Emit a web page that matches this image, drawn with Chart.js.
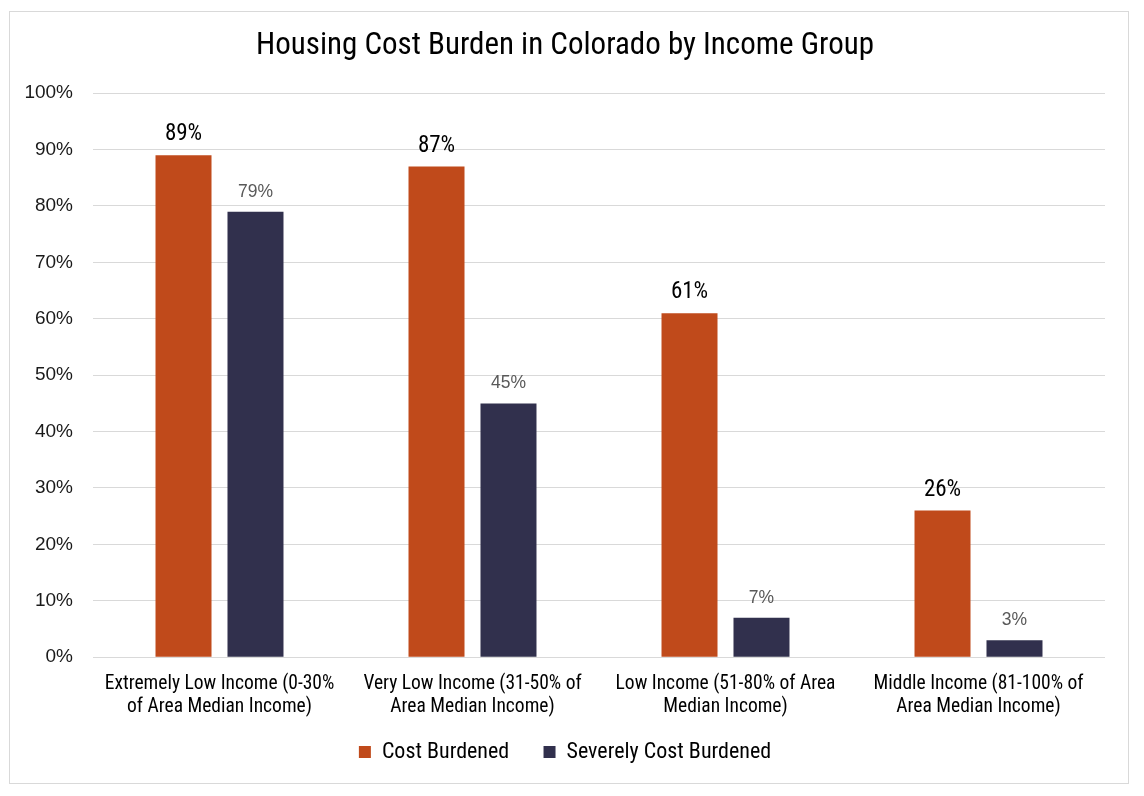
<!DOCTYPE html>
<html>
<head>
<meta charset="utf-8">
<script src="https://cdn.jsdelivr.net/npm/chart.js@4/dist/chart.umd.min.js"></script>
<style>
  html, body { margin: 0; padding: 0; background: #fff; }
  #frame {
    position: absolute; left: 9px; top: 11px;
    width: 1120px; height: 773px;
    border: 1px solid #d9d9d9; box-sizing: border-box;
  }
  #chart { display: block; }
</style>
</head>
<body>
<div id="frame"><canvas id="chart" width="1118" height="771"></canvas></div>
<script>
// ─── Data ───────────────────────────────────────────────
const CATEGORIES = [
  ['Extremely Low Income (0-30%', 'of Area Median Income)'],
  ['Very Low Income (31-50% of', 'Area Median Income)'],
  ['Low Income (51-80% of Area', 'Median Income)'],
  ['Middle Income (81-100% of', 'Area Median Income)'],
];
const COST_BURDENED = [89, 87, 61, 26];
const SEVERELY_BURDENED = [79, 45, 7, 3];
const Y_TICKS = [0, 10, 20, 30, 40, 50, 60, 70, 80, 90, 100];

const NARROW = '"Liberation Sans Narrow", "Roboto Condensed", sans-serif';
const SANS = '"Liberation Sans", Arial, sans-serif';

// value labels above each bar
const valueLabels = {
  id: 'valueLabels',
  afterDatasetsDraw(chart) {
    const ctx = chart.ctx;
    ctx.save();
    ctx.textAlign = 'center';
    ctx.textBaseline = 'alphabetic';
    chart.data.datasets.forEach((ds, i) => {
      chart.getDatasetMeta(i).data.forEach((bar, j) => {
        ctx.fillStyle = ds.labelColor;
        ctx.font = ds.labelFont;
        ctx.fillText(ds.data[j] + '%', bar.x, bar.y - 15);
      });
    });
    ctx.restore();
  }
};

new Chart(document.getElementById('chart'), {
  type: 'bar',
  data: {
    labels: CATEGORIES,
    datasets: [
      {
        label: 'Cost Burdened',
        data: COST_BURDENED,
        backgroundColor: '#c04a1b',
        labelColor: '#000',
        labelFont: '23px ' + NARROW,
        barPercentage: 0.778,
        categoryPercentage: 0.569,
      },
      {
        label: 'Severely Cost Burdened',
        data: SEVERELY_BURDENED,
        backgroundColor: '#31304d',
        labelColor: '#595959',
        labelFont: '17.5px ' + SANS,
        barPercentage: 0.778,
        categoryPercentage: 0.569,
      },
    ]
  },
  options: {
    responsive: false,
    animation: false,
    layout: { autoPadding: false, padding: { left: 15, right: 23, top: 0, bottom: 10 } },
    plugins: {
      title: {
        display: true,
        text: 'Housing Cost Burden in Colorado by Income Group',
        color: '#000',
        font: { family: NARROW, size: 31, weight: 'normal' },
        padding: { top: 16, bottom: 28 },
      },
      legend: {
        position: 'bottom',
        labels: {
          color: '#000',
          font: { family: NARROW, size: 22 },
          boxWidth: 12, boxHeight: 12,
          padding: 15,
          // widen the gap after the first entry, as in the source
          generateLabels: chart => {
            const items = Chart.defaults.plugins.legend.labels.generateLabels(chart);
            items[0].text += '\u2003';
            return items;
          },
        }
      },
      tooltip: { enabled: false },
    },
    scales: {
      x: {
        grid: { display: false },
        border: { display: false },
        ticks: { color: '#000', font: { family: NARROW, size: 19.5, lineHeight: 1.2 }, maxRotation: 0, padding: 7 },
      },
      y: {
        min: 0, max: 100,
        afterBuildTicks: axis => { axis.ticks = Y_TICKS.map(v => ({ value: v })); },
        afterFit: axis => { axis.width = 68; },
        grid: { color: '#d9d9d9', drawTicks: false },
        border: { display: false },
        ticks: { color: '#1a1a1a', font: { family: SANS, size: 19 }, padding: 20, callback: v => v + '%' },
      }
    }
  },
  plugins: [valueLabels]
});
</script>
</body>
</html>
